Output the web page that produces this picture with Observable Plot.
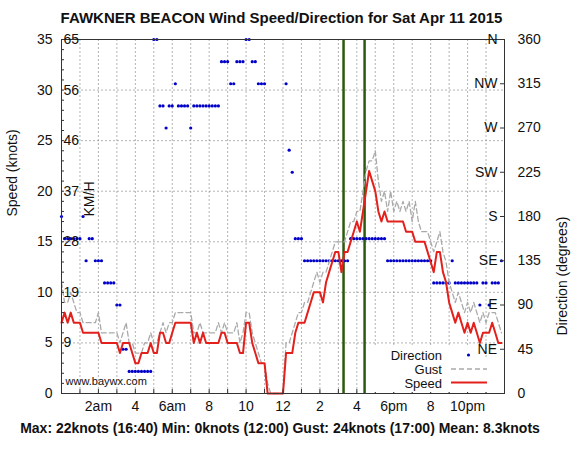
<!DOCTYPE html>
<html><head><meta charset="utf-8">
<script src="https://cdn.jsdelivr.net/npm/d3@7"></script>
<script src="https://cdn.jsdelivr.net/npm/@observablehq/plot@0.6"></script>
<style>
body{margin:0;background:#fff;font-family:"Liberation Sans",Arial,Helvetica,sans-serif;}
#wrap{position:relative;width:587px;height:456px;overflow:hidden;background:#fff;}
#title{position:absolute;left:0;width:563px;top:9px;text-align:center;font-weight:bold;font-size:15px;line-height:18px;color:#111;}
#chart{position:absolute;left:0;top:30px;}
#caption{position:absolute;left:0;width:560px;top:419px;text-align:center;font-weight:bold;font-size:14px;line-height:18px;color:#111;}
#legend{position:absolute;left:0;top:0;pointer-events:none;}
</style></head>
<body>
<div id="wrap">
<div id="title">FAWKNER BEACON Wind Speed/Direction for Sat Apr 11 2015</div>
<div id="chart"></div>
<div id="caption">Max: 22knots (16:40) Min: 0knots (12:00) Gust: 24knots (17:00) Mean: 8.3knots</div>
<svg id="legend" width="587" height="456" font-family="Liberation Sans, Arial, sans-serif" font-size="13">
  <rect x="368" y="346" width="110" height="12" fill="#fff"></rect>
  <rect x="368" y="357" width="135" height="35" fill="#fff"></rect>
  <text x="442" y="360" text-anchor="end" fill="#111">Direction</text>
  <text x="442" y="374" text-anchor="end" fill="#111">Gust</text>
  <text x="442" y="388" text-anchor="end" fill="#111">Speed</text>
  <circle cx="468.5" cy="355" r="1.6" fill="#0000c8"></circle>
  <line x1="451" y1="369" x2="487" y2="369" stroke="#aaaaaa" stroke-width="1.3" stroke-dasharray="5,3"></line>
  <line x1="451" y1="382.5" x2="487" y2="382.5" stroke="#e3201b" stroke-width="2"></line>
  <text x="497" y="354" text-anchor="end" fill="#111" font-size="14">NE</text>
</svg>
</div>
<script>
// 10-minute observations starting at midnight
const stepMinutes = 10;
const speed = [
 7,8,7,8,7,7,7,6,6,6,
 6,6,6,5,5,5,5,5,5,4,
 5,5,5,4,3,3,4,4,4,5,
 4,4,6,6,5,5,6,7,7,7,
 7,7,7,5,6,5,6,5,5,5,
 5,5,6,6,5,5,5,5,4,4,
 7,7,5,4,3,3,3,0,0,0,
 0,0,0,4,4,4,6,7,7,7,
 8,9,10,10,10,9,11,12,13,14,
 14,12,14,14,15,16,17,16,18,20,
 22,21,20,18,17,18,17,17,17,17,
 17,17,16,16,16,15,15,15,15,14,
 13,12,14,14,12,11,9,8,7,8,
 7,6,7,6,7,6,5,6,6,6,
 7,6,5,5];
const gust = [
 11,9,9,10,9,8,8,7,7,7,
 7,7,8,6,6,6,6,6,6,5,
 6,7,5,5,4,4,4,5,5,6,
 5,5,6,7,6,7,7,8,8,8,
 8,8,8,6,6,7,6,6,6,6,
 6,7,6,7,6,6,6,7,5,6,
 8,8,6,5,4,3,3,1,0,0,
 0,0,0,5,5,6,7,8,8,9,
 9,10,11,12,11,12,12,13,14,15,
 15,15,15,16,17,17,18,18,20,22,
 23,23,24,21,19,20,18,20,18,19,
 18,19,18,19,17,19,17,16,16,16,
 15,14,15,16,14,13,11,10,9,10,
 9,8,9,8,9,8,7,8,7,8,
 8,8,7,6];
const direction = [
 180,157.5,157.5,157.5,157.5,157.5,157.5,180,135,157.5,
 157.5,135,135,135,112.5,112.5,112.5,112.5,90,90,
 45,45,22.5,22.5,22.5,22.5,22.5,22.5,22.5,22.5,
 360,360,292.5,292.5,270,292.5,292.5,315,292.5,292.5,
 292.5,292.5,270,292.5,292.5,292.5,292.5,292.5,292.5,292.5,
 292.5,292.5,337.5,337.5,337.5,315,315,337.5,337.5,337.5,
 360,360,337.5,337.5,315,315,315,null,null,null,
 null,null,null,315,247.5,225,157.5,157.5,157.5,135,
 135,135,135,135,135,135,135,135,135,135,
 135,135,135,135,157.5,157.5,157.5,157.5,157.5,157.5,
 157.5,157.5,157.5,157.5,157.5,157.5,135,135,135,135,
 135,135,135,135,135,135,135,135,135,135,
 135,112.5,112.5,112.5,112.5,112.5,112.5,135,112.5,112.5,
 112.5,112.5,112.5,112.5,112.5,112.5,90,112.5,112.5,90,
 112.5,112.5,112.5,135];
// vertical event markers (hours)
const markers = [15.28, 16.42];
const speedTicks = [0,5,10,15,20,25,30,35];
const kmhLabels = ["9","19","28","37","46","56","65"];
const kmhTicks = [5,10,15,20,25,30,35];
const dirTicks = [0,45,90,135,180,225,270,315,360];
const compassNames = ["E","SE","S","SW","W","NW","N"];
const compassDeg = [90,135,180,225,270,315,360];
const xTicks = [2,4,6,8,10,12,14,16,18,20,22];
const xTickLabels = ["2am","4","6am","8","10","12","2","4","6pm","8","10pm"];
const hourTicks = d3.range(1,24);
const minorKnots = d3.range(1,35);

const ySpeedMax = 35, dirMax = 360;
const degToKnots = d => d * ySpeedMax / dirMax;

const obs = speed.map((s,i) => ({t: i*stepMinutes/60, speed: s, gust: gust[i], dir: direction[i]}));
const dirObs = obs.filter(d => d.dir != null);

const font = "Liberation Sans, Arial, sans-serif";
const chart = Plot.plot({
  width: 587, height: 386,
  marginTop: 9, marginBottom: 23, marginLeft: 61, marginRight: 83,
  style: {fontSize: "14px", fontFamily: font, color: "#111", background: "transparent", overflow: "visible"},
  x: {domain: [0,24], axis: null, label: null},
  y: {domain: [0,35], axis: null, label: null},
  marks: [
    Plot.gridX(hourTicks, {stroke: "#888", strokeOpacity: 0.9, strokeWidth: 0.7, strokeDasharray: "2,2"}),
    Plot.gridY(kmhTicks.slice(0,6), {stroke: "#888", strokeOpacity: 0.9, strokeWidth: 0.7, strokeDasharray: "2,2"}),
    Plot.ruleX(markers, {stroke: "#2b5a0c", strokeWidth: 2.5}),
    Plot.dot(dirObs, {x: "t", y: d => degToKnots(d.dir), r: 1.6, fill: "#0000c8", stroke: null}),
    Plot.line(obs, {x: "t", y: "gust", stroke: "#aaaaaa", strokeWidth: 1.3, strokeDasharray: "5,3"}),
    Plot.line(obs, {x: "t", y: "speed", stroke: "#e3201b", strokeWidth: 2}),
    Plot.frame({stroke: "#333", strokeWidth: 1}),
    // left axis
    Plot.axisY(speedTicks, {anchor: "left", tickSize: 0, tickPadding: 9, fontSize: 14}),
    Plot.axisY(minorKnots, {anchor: "left", tickSize: -3, fill: "none", stroke: "#333"}),
    // bottom axis
    Plot.axisX(hourTicks, {anchor: "bottom", tickSize: -4, fill: "none", stroke: "#333"}),
    Plot.axisX(xTicks, {anchor: "bottom", tickSize: 0, tickPadding: 8, fontSize: 14, tickFormat: d => xTickLabels[xTicks.indexOf(d)]}),
    // right axis: compass and degrees
    Plot.axisY([degToKnots(45)], {anchor: "right", tickSize: -5, fill: "none", stroke: "#333"}),
    Plot.axisY(compassDeg.map(degToKnots), {anchor: "right", tickSize: -5, tickPadding: -2, textAnchor: "end", fontSize: 14, stroke: "#333",
      tickFormat: k => compassNames[compassDeg.indexOf(Math.round(k*dirMax/ySpeedMax*10)/10)]}),
    Plot.axisY(dirTicks.map(degToKnots), {anchor: "right", tickSize: 0, tickPadding: 13, fontSize: 14,
      tickFormat: k => String(Math.round(k*dirMax/ySpeedMax))}),
    // km/h labels inside left
    Plot.text(kmhTicks, {frameAnchor: "left", y: d => d, text: (d,i) => kmhLabels[i], textAnchor: "start", dx: 2, fontSize: 14, fill: "#111"}),
    Plot.text(["KM/H"], {frameAnchor: "left", text: d => d, rotate: -90, dx: 28, fontSize: 14, fill: "#111"}),
    Plot.text(["www.baywx.com"], {frameAnchor: "bottom-left", text: d => d, textAnchor: "start", dx: 4, dy: -9, fontSize: 11, fill: "#111"}),
    Plot.text(["Speed (knots)"], {frameAnchor: "left", text: d => d, rotate: -90, dx: -49, fontSize: 14, fill: "#111"}),
    Plot.text(["Direction (degrees)"], {frameAnchor: "right", text: d => d, rotate: -90, dx: 58, fontSize: 14, fill: "#111"})
  ]
});
document.getElementById("chart").appendChild(chart);
</script>
</body></html>
